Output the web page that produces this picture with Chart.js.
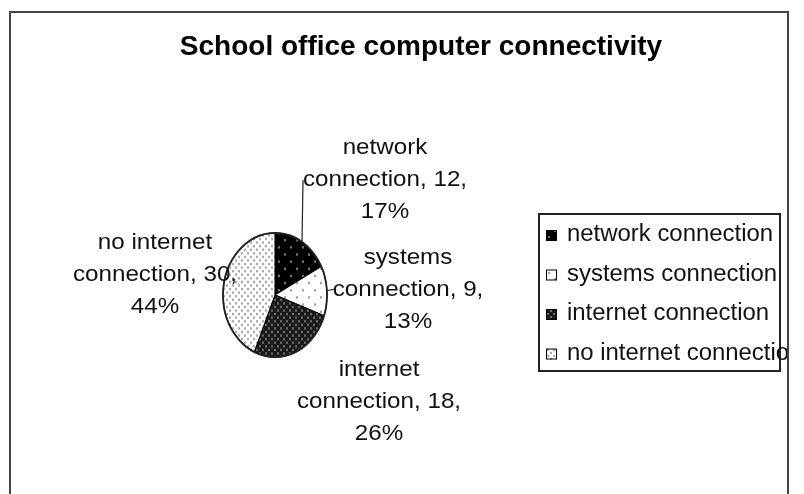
<!DOCTYPE html>
<html>
<head>
<meta charset="utf-8">
<script src="https://cdn.jsdelivr.net/npm/chart.js@4.4.0/dist/chart.umd.min.js"></script>
<style>
  body { margin: 0; background: #fff; }
  .frame { position: absolute; left: 9px; top: 11px; width: 776px; height: 500px; border: 2px solid #444; border-bottom: none; }
  #pieChart { position: absolute; left: 0; top: 0; }
</style>
</head>
<body>
<div class="frame"></div>
<canvas id="pieChart" width="804" height="494"></canvas>
<script>
const chartTitle = 'School office computer connectivity';
const labels = ['network connection', 'systems connection', 'internet connection', 'no internet connection'];
const values = [12, 9, 18, 30];
const percents = [17, 13, 26, 44];

// layout only (pixels relative to the pie centre)
const labelOffsets = [[110, -115], [133, -5], [104, 107], [-120, -20]];
const leaderEnds = [[28, -115], [60, -6], null, null];
const ellipseRatio = 62 / 52;

function makePattern(bg, dot, step, size, offsets) {
  const c = document.createElement('canvas');
  c.width = step; c.height = step;
  const g = c.getContext('2d');
  g.fillStyle = bg;
  g.fillRect(0, 0, step, step);
  g.fillStyle = dot;
  offsets.forEach(o => g.fillRect(o[0], o[1], size, size));
  return g.createPattern(c, 'repeat');
}

const patterns = [
  makePattern('#000000', '#777777', 12, 2, [[2, 2], [8, 8]]),
  makePattern('#ffffff', '#a0a0a0', 12, 2, [[2, 2], [8, 8]]),
  makePattern('#1a1a1a', '#6a6a6a', 6, 2, [[1, 1], [4, 4]]),
  makePattern('#ffffff', '#aaaaaa', 6, 2, [[1, 1], [4, 4]])
];

function stretchedText(ctx, text, x, y, sx) {
  ctx.save();
  ctx.translate(x, y);
  ctx.scale(sx, 1);
  ctx.fillText(text, 0, 0);
  ctx.restore();
}

const excelPie = {
  id: 'excelPie',
  beforeDatasetsDraw(chart) {
    const arc = chart.getDatasetMeta(0).data[0];
    const ctx = chart.ctx;
    ctx.save();
    ctx.translate(arc.x, arc.y);
    ctx.scale(1, ellipseRatio);
    ctx.translate(-arc.x, -arc.y);
  },
  afterDatasetsDraw(chart) {
    const ctx = chart.ctx;
    ctx.restore();
    const arcs = chart.getDatasetMeta(0).data;
    const cx = arcs[0].x, cy = arcs[0].y, r = arcs[0].outerRadius;

    // outline of the oval
    ctx.save();
    ctx.strokeStyle = '#222';
    ctx.lineWidth = 1.8;
    ctx.beginPath();
    ctx.ellipse(cx, cy, r, r * ellipseRatio, 0, 0, Math.PI * 2);
    ctx.stroke();

    // leader lines
    ctx.lineWidth = 1.2;
    arcs.forEach((a, i) => {
      if (!leaderEnds[i]) return;
      const mid = (a.startAngle + a.endAngle) / 2;
      ctx.beginPath();
      ctx.moveTo(cx + Math.cos(mid) * r, cy + Math.sin(mid) * r * ellipseRatio);
      ctx.lineTo(cx + leaderEnds[i][0], cy + leaderEnds[i][1]);
      ctx.stroke();
    });

    // data labels
    ctx.fillStyle = '#111';
    ctx.font = '22px "Liberation Sans", Arial, sans-serif';
    ctx.textAlign = 'center';
    ctx.textBaseline = 'middle';
    labels.forEach((l, i) => {
      const lines = [l.replace(/ connection$/, ''), 'connection, ' + values[i] + ',', percents[i] + '%'];
      const x = cx + labelOffsets[i][0];
      const y = cy + labelOffsets[i][1];
      lines.forEach((t, k) => stretchedText(ctx, t, x, y + (k - 1) * 32, 1.1));
    });
    ctx.restore();
  },
  afterDraw(chart) {
    const ctx = chart.ctx;
    ctx.save();
    ctx.beginPath();
    ctx.rect(11, 13, 776, 481);
    ctx.clip();

    // title
    ctx.fillStyle = '#000';
    ctx.font = 'bold 28px "Liberation Sans", Arial, sans-serif';
    ctx.textAlign = 'center';
    ctx.textBaseline = 'alphabetic';
    ctx.fillText(chartTitle, 421, 55);

    // legend
    ctx.strokeStyle = '#222';
    ctx.lineWidth = 2;
    ctx.strokeRect(539, 214, 241, 157);
    ctx.font = '23px "Liberation Sans", Arial, sans-serif';
    ctx.textAlign = 'left';
    ctx.textBaseline = 'middle';
    const ds = chart.data.datasets[0];
    labels.forEach((l, i) => {
      const y = 235 + i * 39.5;
      ctx.fillStyle = ds.backgroundColor[i];
      ctx.fillRect(546, y - 5, 11, 11);
      ctx.lineWidth = 1;
      ctx.strokeStyle = '#000';
      ctx.strokeRect(546.5, y - 4.5, 10, 10);
      ctx.fillStyle = '#111';
      stretchedText(ctx, l, 567, y, 1.04);
    });
    ctx.restore();
  }
};

new Chart(document.getElementById('pieChart'), {
  type: 'pie',
  data: {
    labels: labels,
    datasets: [{
      data: values,
      backgroundColor: patterns,
      borderColor: '#000',
      borderWidth: 1,
      hoverOffset: 0,
      radius: 52
    }]
  },
  options: {
    responsive: false,
    animation: false,
    layout: { padding: { left: 175, right: 429, top: 195, bottom: 99 } },
    plugins: {
      legend: { display: false },
      title: { display: false },
      tooltip: { enabled: false }
    }
  },
  plugins: [excelPie]
});
</script>
</body>
</html>
